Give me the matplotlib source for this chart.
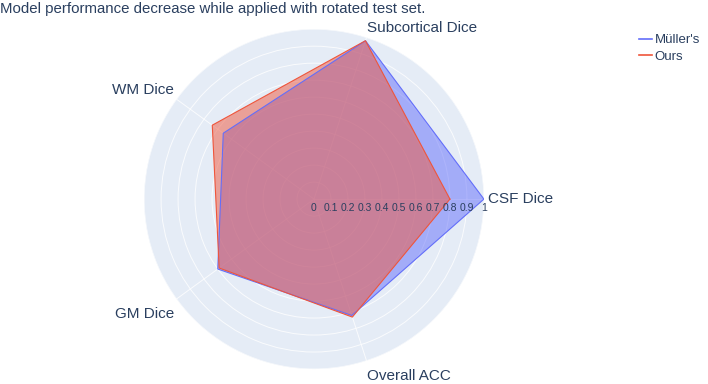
#radar chart: model performance with rotated test set

import matplotlib
matplotlib.use("Agg")
import matplotlib.pyplot as plt
import numpy as np
from matplotlib.lines import Line2D

categories = ["CSF Dice", "Subcortical Dice", "WM Dice", "GM Dice", "Overall ACC"]
muller = [1.0, 0.98, 0.66, 0.70, 0.72]
ours = [0.80, 0.98, 0.74, 0.69, 0.73]
series_names = ["Müller's", "Ours"]
rticks = [0, 0.1, 0.2, 0.3, 0.4, 0.5, 0.6, 0.7, 0.8, 0.9, 1]

plt.rcParams['font.family'] = ['Liberation Sans', 'DejaVu Sans']
txt = '#2a3f5f'
colors = ['#636efa', '#ef553b']

theta = np.linspace(0, 2*np.pi, len(categories), endpoint=False)

fig = plt.figure(figsize=(7.08, 3.84), dpi=100)
ax = fig.add_axes([0.2034, 0.039, 0.4802, 0.885], projection='polar')
ax.set_facecolor('#e5ecf6')
ax.set_ylim(0, 1)
ax.set_xticks(theta)
ax.set_xticklabels([])
ax.set_yticks(rticks)
ax.set_yticklabels([])
ax.grid(color='white', linewidth=0.7, alpha=0.8)
ax.spines['polar'].set_visible(False)

for vals, col in zip([muller, ours], colors):
    t = np.append(theta, theta[0])
    v = np.append(vals, vals[0])
    ax.fill(t, v, color=col, alpha=0.5, linewidth=0, zorder=3)
    ax.plot(t, v, color=col, linewidth=0.8, zorder=4)

#radial tick labels under the axis line
for r in rticks:
    ax.annotate('%g' % r, xy=(0, r), xytext=(0, -3), textcoords='offset points',
                fontsize=7.5, color=txt, ha='center', va='top', zorder=5)

#category labels
for a, lab in zip(theta, categories):
    c, s = np.cos(a), np.sin(a)
    ha = 'left' if c > 0.2 else ('right' if c < -0.2 else 'center')
    if s > 0.5:
        va, off = 'bottom', (2*c, 1.5)
    elif s < -0.5:
        va, off = 'top', (2*c, -6)
    else:
        va, off = 'center', (3*c, 0)
    ax.annotate(lab, xy=(a, 1), xytext=off, textcoords='offset points',
                fontsize=11, color=txt, ha=ha, va=va, annotation_clip=False)

fig.text(0.0, 0.995, "Model performance decrease while applied with rotated test set.",
         fontsize=10.8, color=txt, ha='left', va='top')

handles = [Line2D([0], [0], color=c, linewidth=1.2) for c in colors]
fig.legend(handles, series_names, loc='upper left', bbox_to_anchor=(0.895, 0.925),
           frameon=False, fontsize=9.5, handlelength=1.0, handletextpad=0.2,
           labelcolor=txt, borderaxespad=0, labelspacing=0.3)

fig.savefig("out.png", dpi=100)
